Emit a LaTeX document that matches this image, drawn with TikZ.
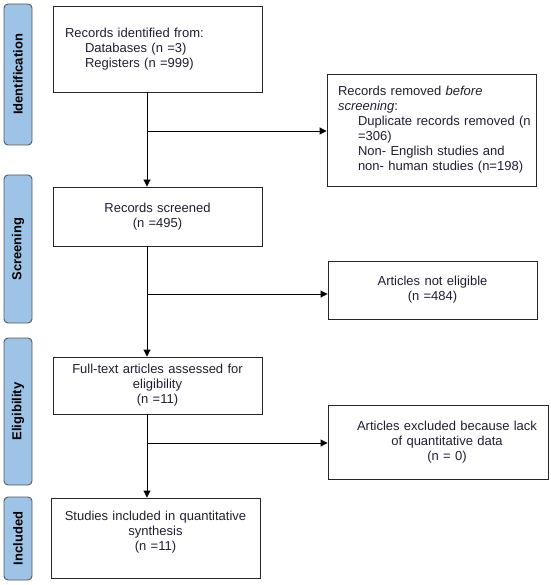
\documentclass[tikz,border=0pt]{standalone}
\usepackage{fontspec}
\setmainfont{Liberation Sans}
\usetikzlibrary{arrows.meta}
\definecolor{phase}{HTML}{9DC3E6}
\definecolor{txt}{HTML}{1F1F33}
\begin{document}
\begin{tikzpicture}[x=1pt,y=-1pt,
  box/.style={draw=black!85, line width=0.9pt, inner sep=0pt, text=txt,
    font=\fontsize{13}{15}\selectfont},
  phaselabel/.style={draw=black!65, fill=phase, rounded corners=4pt, line width=0.9pt,
    rotate=90, font=\bfseries\fontsize{13}{15}\selectfont, minimum height=28pt, inner sep=0pt},
  flow/.style={line width=0.9pt, -{Triangle[length=7pt,width=7pt]}},
  link/.style={line width=0.9pt}]

\useasboundingbox (0,0) rectangle (550,585);
\fill[white] (0,0) rectangle (550,585);

% phase labels
\node[phaselabel, minimum width=141pt] (pid) at (18,74.5) {Identification};
\node[phaselabel, minimum width=148pt] (psc) at (18,249) {Screening};
\node[phaselabel, minimum width=147pt] (pel) at (18,411.5) {Eligibility};
\node[phaselabel, minimum width=83pt] (pin) at (18,538.5) {Included};

% main boxes
\node[box, minimum width=209pt, minimum height=86pt, text width=185pt, align=left]
  (ident) at (157.5,49) {Records identified from:\\\hspace*{20pt}Databases (n =3)\\\hspace*{20pt}Registers (n =999)};
\node[box, minimum width=209pt, minimum height=112pt, text width=187pt, align=left]
  (removed) at (431.5,130) {Records removed \textit{before}\\\textit{screening}:\\\hspace*{20pt}\mbox{Duplicate records removed (n}\\\hspace*{20pt}=306)\\\hspace*{20pt}Non- English studies and\\\hspace*{20pt}\mbox{non- human studies (n=198)}};
\node[box, minimum width=209pt, minimum height=59pt, text width=195pt, align=center]
  (screened) at (157.5,216.5) {Records screened\\(n =495)};
\node[box, minimum width=209pt, minimum height=58pt, text width=195pt, align=center]
  (noteligible) at (432.5,290) {Articles not eligible\\(n =484)};
\node[box, minimum width=209pt, minimum height=57pt, text width=195pt, align=center]
  (fulltext) at (157.5,385.5) {Full-text articles assessed for\\eligibility\\(n =11)};
\node[box, minimum width=220pt, minimum height=74pt, text width=212pt, align=center]
  (excluded) at (438,442) {\hspace*{18pt}Articles excluded because lack\\\hspace*{18pt}of quantitative data\\\hspace*{18pt}(n = 0)};
\node[box, minimum width=209pt, minimum height=80pt, text width=195pt, align=center]
  (included) at (155.5,538) {Studies included in quantitative\\synthesis\\(n =11)\\\mbox{}};

% connectors
\coordinate (b1) at (147,131);
\coordinate (b2) at (147,294);
\coordinate (b3) at (147,443);
\draw[flow] (ident.south -| b1) -- (screened.north -| b1);
\draw[flow] (b1) -- (b1 -| removed.west);
\draw[flow] (screened.south -| b2) -- (fulltext.north -| b2);
\draw[flow] (b2) -- (b2 -| noteligible.west);
\draw[flow] (fulltext.south -| b3) -- (included.north -| b3);
\draw[flow] (b3) -- (b3 -| excluded.west);
\end{tikzpicture}
\end{document}
